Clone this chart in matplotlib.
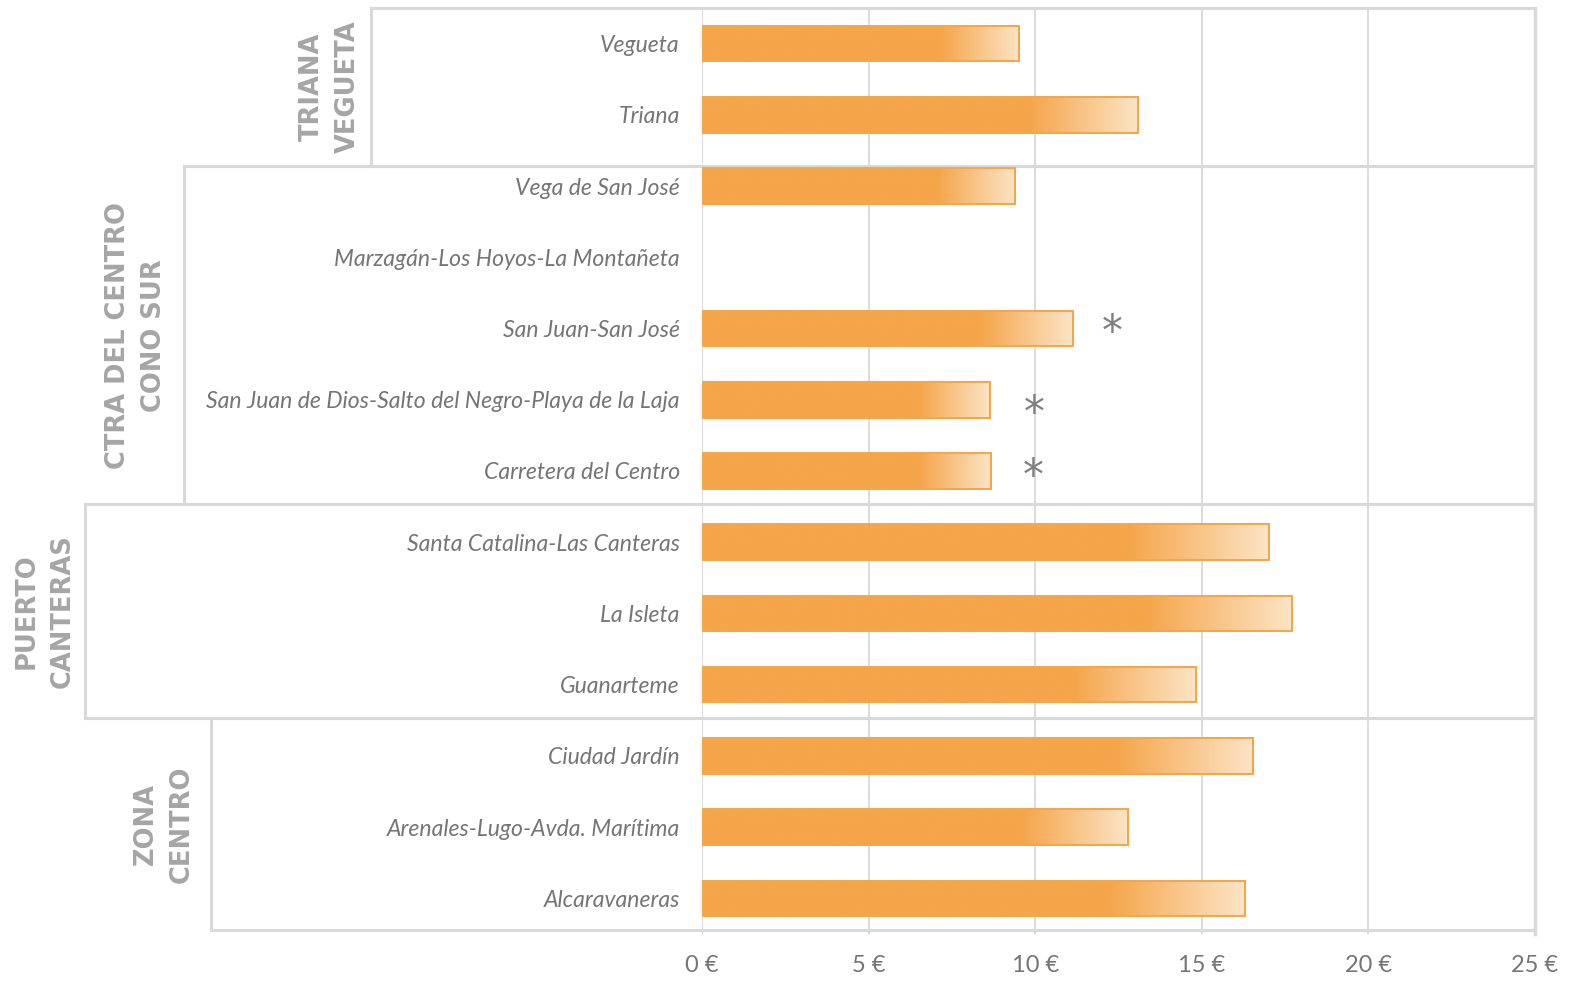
import matplotlib
matplotlib.use('Agg')
import matplotlib.pyplot as plt
import numpy as np

# data (price in euros)
barrios = ['Vegueta', 'Triana',
           'Vega de San José', 'Marzagán-Los Hoyos-La Montañeta', 'San Juan-San José',
           'San Juan de Dios-Salto del Negro-Playa de la Laja', 'Carretera del Centro',
           'Santa Catalina-Las Canteras', 'La Isleta', 'Guanarteme',
           'Ciudad Jardín', 'Arenales-Lugo-Avda. Marítima', 'Alcaravaneras']
precios = [9.52, 13.09, 9.40, 0.0, 11.12, 8.65, 8.68, 17.02, 17.71, 14.84, 16.54, 12.79, 16.29]
# rows flagged with an asterisk and where the mark sits (euros)
asterisco_filas = ['San Juan-San José', 'San Juan de Dios-Salto del Negro-Playa de la Laja', 'Carretera del Centro']
asterisco_x = [12.3, 9.98, 9.95]
zonas = ['TRIANA\nVEGUETA', 'CTRA DEL CENTRO\nCONO SUR', 'PUERTO\nCANTERAS', 'ZONA\nCENTRO']
xticks = [0, 5, 10, 15, 20, 25]
xtick_labels = ['0 €', '5 €', '10 €', '15 €', '20 €', '25 €']

# layout: zone box limits (row coords), left edge of each box and x of its label (axes fraction)
caja_lim = [-0.5, 1.72, 6.47, 9.47, 12.44]
caja_izq = [-0.398, -0.6215, -0.741, -0.589]
etiqueta_x = [-0.447, -0.680, -0.789, -0.646]
asterisco_dy = [-0.03, 0.10, -0.02]

naranja = '#F5A54A'
palido = np.array([252, 228, 197]) / 255.
gris_linea = '#d9d9d9'
gris_texto = '#757575'
gris_zona = '#a5a5a5'

fig = plt.figure(figsize=(15.79, 9.82), dpi=100)
ax = fig.add_axes([0.4446, 0.0489, 0.5275, 0.9430])

y = np.arange(len(barrios))
bars = ax.barh(y, precios, height=0.5, facecolor='none', edgecolor=naranja, linewidth=1.4, zorder=3)

# gradient fill: solid orange, then fading to pale over the last quarter
t = np.linspace(0, 1, 256)
w = np.clip((t - 0.75) / 0.25, 0, 1)
base = np.array(matplotlib.colors.to_rgb(naranja))
grad = base[None, :] * (1 - w[:, None]) + palido[None, :] * w[:, None]
grad = grad[None, :, :]
for b, v, yy in zip(bars, precios, y):
    if v <= 0:
        b.set_visible(False)
        continue
    im = ax.imshow(grad, extent=(0, v, yy + 0.25, yy - 0.25), aspect='auto',
                   interpolation='bilinear', zorder=2)
    im.set_clip_path(b)

for nombre, xa, dy in zip(asterisco_filas, asterisco_x, asterisco_dy):
    ax.text(xa, barrios.index(nombre) + 0.1 + dy, '*', fontsize=30, color='#808080',
            ha='center', va='center', family='DejaVu Sans')

ax.set_xlim(0, 25)
ax.set_ylim(len(barrios) - 0.5, -0.5)
ax.set_xticks(xticks)
ax.set_xticklabels(xtick_labels, fontsize=17, color=gris_texto, family='Lato')
ax.set_yticks(y)
ax.set_yticklabels(barrios, fontsize=16.6, color=gris_texto, style='italic', family='Lato')
ax.tick_params(axis='y', length=0, pad=16)
ax.tick_params(axis='x', length=0, pad=15)
ax.grid(axis='x', color=gris_linea, linewidth=1.3, zorder=0)
ax.set_axisbelow(True)
for s in ['left', 'top', 'bottom']:
    ax.spines[s].set_visible(False)
ax.spines['right'].set_color(gris_linea)
ax.spines['right'].set_linewidth(2.5)

# zone boxes and labels outside the axes
tr = ax.get_yaxis_transform()
for i, (nombre, xl, xt) in enumerate(zip(zonas, caja_izq, etiqueta_x)):
    y0, y1 = caja_lim[i], caja_lim[i + 1]
    ax.plot([xl, xl], [y0, y1], color=gris_linea, lw=2.2, transform=tr, clip_on=False, zorder=1)
    ax.plot([xl, 1], [y0, y0], color=gris_linea, lw=2.2, transform=tr, clip_on=False, zorder=1)
    ax.plot([xl, 1], [y1, y1], color=gris_linea, lw=2.2, transform=tr, clip_on=False, zorder=1)
    ax.text(xt, (y0 + y1) / 2, nombre, transform=tr, rotation=90, ha='center', va='center',
            multialignment='center', fontsize=18.5, fontweight='bold', color=gris_zona,
            family='DejaVu Sans', linespacing=1.5)

plt.savefig('out.png', dpi=100)
